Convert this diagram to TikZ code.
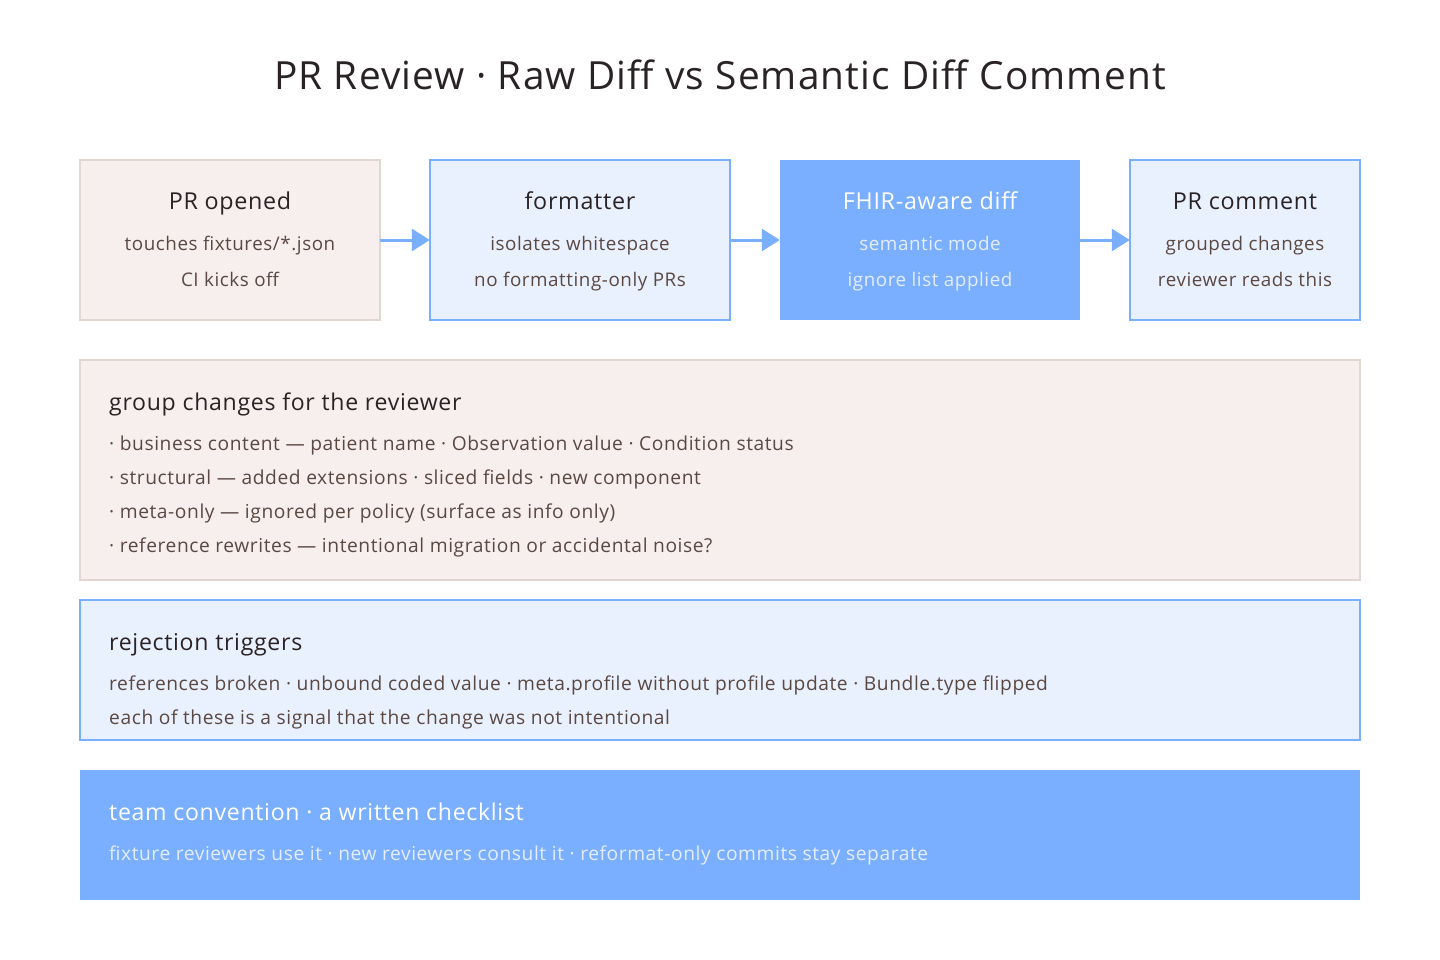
\documentclass[tikz,border=0pt]{standalone}
\usepackage{fontspec}
\setmainfont{Open Sans}[LetterSpace=3]
\usetikzlibrary{arrows.meta}
\definecolor{ink}{HTML}{2A2326}
\definecolor{sub}{HTML}{5A4843}
\definecolor{pinkfill}{HTML}{F7EFEE}
\definecolor{pinkline}{HTML}{E2D6D3}
\definecolor{bluefill}{HTML}{EAF1FE}
\definecolor{blueline}{HTML}{7AAFFF}
\definecolor{lighttext}{HTML}{E4EDFF}
\tikzset{
  x=1pt,y=-1pt,
  pinkbox/.style={draw=pinkline,fill=pinkfill,line width=2pt},
  bluebox/.style={draw=blueline,fill=bluefill,line width=2pt},
  solidbox/.style={fill=blueline,draw=none},
  flowarrow/.style={draw=blueline,line width=3pt,-{Triangle[length=18pt,width=22pt]}},
  ttl/.style={font=\fontsize{23.3}{28}\selectfont,anchor=base},
  subt/.style={font=\fontsize{18.8}{22}\selectfont,anchor=base},
  htl/.style={font=\fontsize{23.1}{28}\selectfont,anchor=base west,inner sep=0pt},
  hsub/.style={font=\fontsize{19.2}{22}\selectfont,anchor=base west,inner sep=0pt},
}
\begin{document}
\begin{tikzpicture}
\useasboundingbox[fill=white] (0,0) rectangle (1440,960);
\node[font=\fontsize{38.8}{46}\selectfont,anchor=base,text=ink] (title) at (720,90) {PR Review · Raw Diff vs Semantic Diff Comment};
% row of boxes
\path[pinkbox] (80,160) rectangle (380,320);
\node[draw=none,minimum width=300pt,minimum height=160pt,inner sep=0pt] (b1) at (230,240) {};
\path[bluebox] (430,160) rectangle (730,320);
\node[draw=none,minimum width=300pt,minimum height=160pt,inner sep=0pt] (b2) at (580,240) {};
\path[solidbox] (780,160) rectangle (1080,320);
\node[draw=none,minimum width=300pt,minimum height=160pt,inner sep=0pt] (b3) at (930,240) {};
\path[bluebox] (1130,160) rectangle (1360,320);
\node[draw=none,minimum width=230pt,minimum height=160pt,inner sep=0pt] (b4) at (1245,240) {};

\node[ttl,text=ink] (b1t) at (230,210) {PR opened};
\node[subt,text=sub] (b1a) at (230,250) {touches fixtures/*.json};
\node[subt,text=sub] (b1b) at (230,286) {CI kicks off};

\node[ttl,text=ink] (b2t) at (580,210) {formatter};
\node[subt,text=sub] (b2a) at (580,250) {isolates whitespace};
\node[subt,text=sub] (b2b) at (580,286) {no formatting-only PRs};

\node[ttl,text=white] (b3t) at (930,210) {FHIR-aware diff};
\node[subt,text=lighttext] (b3a) at (930,250) {semantic mode};
\node[subt,text=lighttext] (b3b) at (930,286) {ignore list applied};

\node[ttl,text=ink] (b4t) at (1245,210) {PR comment};
\node[subt,text=sub] (b4a) at (1245,250) {grouped changes};
\node[subt,text=sub] (b4b) at (1245,286) {reviewer reads this};

\draw[flowarrow] (b1.east) -- (b2.west);
\draw[flowarrow] (b2.east) -- (b3.west);
\draw[flowarrow] (b3.east) -- (b4.west);

% group box
\path[pinkbox] (80,360) rectangle (1360,580);
\node[htl,text=ink] (g0) at (109,410) {group changes for the reviewer};
\node[hsub,text=sub] (g1) at (109,450) {· business content — patient name · Observation value · Condition status};
\node[hsub,text=sub] (g2) at (109,484) {· structural — added extensions · sliced fields · new component};
\node[hsub,text=sub] (g3) at (109,518) {· meta-only — ignored per policy (surface as info only)};
\node[hsub,text=sub] (g4) at (109,552) {· reference rewrites — intentional migration or accidental noise?};

% rejection box
\path[bluebox] (80,600) rectangle (1360,740);
\node[htl,text=ink] (r0) at (109,650) {rejection triggers};
\node[hsub,text=sub] (r1) at (109,690) {references broken · unbound coded value · meta.profile without profile update · Bundle.type flipped};
\node[hsub,text=sub] (r2) at (109,724) {each of these is a signal that the change was not intentional};

% team box
\path[solidbox] (80,770) rectangle (1360,900);
\node[htl,text=white] (t0) at (109,820) {team convention · a written checklist};
\node[hsub,text=lighttext] (t1) at (109,860) {fixture reviewers use it · new reviewers consult it · reformat-only commits stay separate};
\end{tikzpicture}
\end{document}
